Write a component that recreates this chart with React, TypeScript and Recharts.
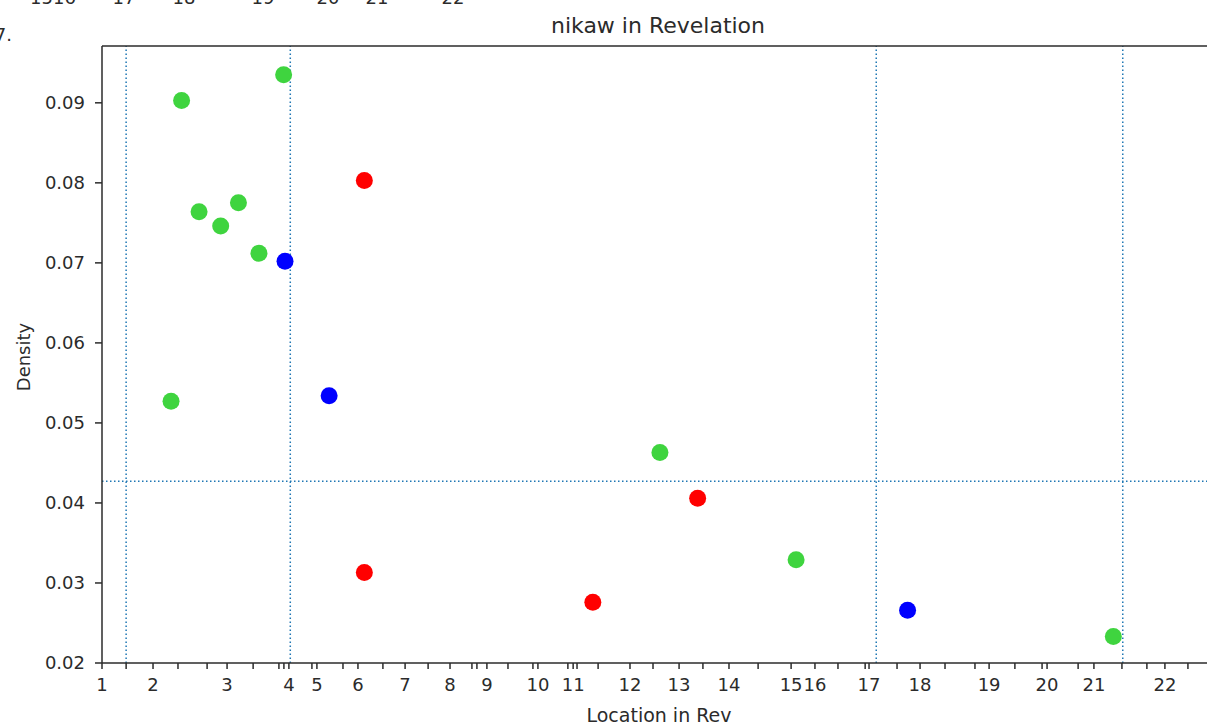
import { ReferenceLine, Scatter, ScatterChart, XAxis, YAxis } from 'recharts';

// x positions are in the chart's own "location" units (chapter 1 starts at 0)
const chapterTicks = [
    0, 18.4, 45.1, 67.4, 77.5, 92.3, 109.3, 125.5, 138.8, 157.2, 169.9,
    190.4, 208.1, 226.1, 248.5, 257.1, 276.6, 295.0, 319.9, 340.8, 357.7, 383.3,
];
const chapterLabels = [
    '1', '2', '3', '4', '5', '6', '7', '8', '9', '10', '11',
    '12', '13', '14', '15', '16', '17', '18', '19', '20', '21', '22',
];
const minorTicks = [
    8.7, 27.4, 37.9, 54.5, 63.8, 65.6, 75.7, 86.9, 101.3, 117.6, 133.4, 135.2,
    146.4, 155.4, 168.0, 171.3, 178.9, 198.7, 216.7, 236.6, 265.4, 275.2,
    286.7, 304.0, 314.8, 329.2, 339.0, 352.0, 367.8, 376.8, 391.6,
];
const densityTicks = [0.02, 0.03, 0.04, 0.05, 0.06, 0.07, 0.08, 0.09];

const greenX = [24.9, 28.7, 35.0, 42.8, 49.2, 56.6, 65.5, 201.2, 250.3, 364.7];
const greenY = [0.0527, 0.0903, 0.0764, 0.0746, 0.0775, 0.0712, 0.0935, 0.0463, 0.0329, 0.0233];
const blueX = [66.0, 81.9, 290.5];
const blueY = [0.0702, 0.0534, 0.0266];
const redX = [94.6, 94.6, 177.0, 214.8];
const redY = [0.0803, 0.0313, 0.0276, 0.0406];

const verticalMarks = [8.7, 67.9, 279.2, 368.1];
const meanDensity = 0.0427;

const X_MAX = 401;
const Y_MIN = 0.02;
const Y_MAX = 0.0971;

const font = 'DejaVu Sans';
const ink = '#2b2b2b';
const dotted = '#1f77b4';

const toPoints = (xs: number[], ys: number[]) => xs.map((x, i) => ({ x, y: ys[i] }));

const allTicks = [...chapterTicks, ...minorTicks].sort((a, b) => a - b);

function dot(color: string) {
    return (p: any) => <circle cx={p.cx} cy={p.cy} r={8.5} fill={color} />;
}

export default function App() {
    return (
        <div
            style={{
                position: 'fixed',
                left: 0,
                top: 0,
                width: 1207,
                height: 725,
                overflow: 'hidden',
                background: '#fff',
            }}
        >
            <ScatterChart
                width={1224}
                height={725}
                margin={{ top: 46, right: 10, bottom: 22, left: 0 }}
            >
                <XAxis
                    type="number"
                    dataKey="x"
                    domain={[0, X_MAX]}
                    ticks={allTicks}
                    interval={0}
                    allowDataOverflow
                    tickFormatter={(v: number) => {
                        const i = chapterTicks.indexOf(v);
                        return i >= 0 ? chapterLabels[i] : '';
                    }}
                    height={40}
                    tickSize={6}
                    tickMargin={9}
                    stroke={ink}
                    strokeWidth={1.5}
                    tick={{ fill: ink, fontSize: 18, fontFamily: font }}
                />
                <YAxis
                    type="number"
                    dataKey="y"
                    domain={[Y_MIN, Y_MAX]}
                    ticks={densityTicks}
                    interval={0}
                    allowDataOverflow
                    tickFormatter={(v: number) => v.toFixed(2)}
                    width={102}
                    tickSize={7}
                    tickMargin={10}
                    stroke={ink}
                    strokeWidth={1.5}
                    tick={{ fill: ink, fontSize: 18, fontFamily: font }}
                />
                <Scatter data={toPoints(greenX, greenY)} shape={dot('#3fd43f')} isAnimationActive={false} />
                <Scatter data={toPoints(blueX, blueY)} shape={dot('#0000ff')} isAnimationActive={false} />
                <Scatter data={toPoints(redX, redY)} shape={dot('#ff0000')} isAnimationActive={false} />
                {verticalMarks.map((v) => (
                    <ReferenceLine key={v} x={v} stroke={dotted} strokeWidth={1.5} strokeDasharray="1.5 2.5" />
                ))}
                <ReferenceLine y={meanDensity} stroke={dotted} strokeWidth={1.5} strokeDasharray="1.5 2.5" />
                <ReferenceLine y={Y_MAX} stroke={ink} strokeWidth={1.5} />
            </ScatterChart>

            <svg
                width={1207}
                height={725}
                style={{ position: 'absolute', left: 0, top: 0, pointerEvents: 'none' }}
                fontFamily={font}
                fill={ink}
            >
                {/* leftovers of the previous figure, cut by the crop */}
                <text x={12} y={41} fontSize={18} textAnchor="end">7.</text>
                <text x={53} y={4} fontSize={18} textAnchor="middle">1516</text>
                <text x={124} y={4} fontSize={18} textAnchor="middle">17</text>
                <text x={184} y={4} fontSize={18} textAnchor="middle">18</text>
                <text x={263} y={4} fontSize={18} textAnchor="middle">19</text>
                <text x={328} y={4} fontSize={18} textAnchor="middle">20</text>
                <text x={377} y={4} fontSize={18} textAnchor="middle">21</text>
                <text x={453} y={4} fontSize={18} textAnchor="middle">22</text>

                <text x={658} y={33} fontSize={22} textAnchor="middle">nikaw in Revelation</text>
                <text x={659} y={722} fontSize={19} textAnchor="middle">Location in Rev</text>
                <text transform="translate(30,357) rotate(-90)" fontSize={18} textAnchor="middle">Density</text>
            </svg>
        </div>
    );
}
